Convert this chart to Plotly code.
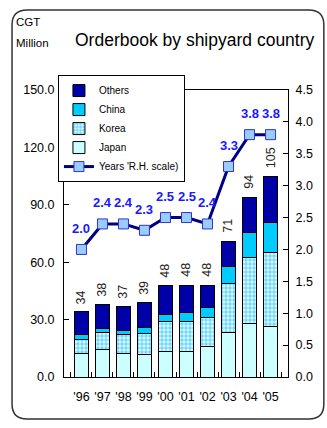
import plotly.graph_objects as go

years = ["'96", "'97", "'98", "'99", "'00", "'01", "'02", "'03", "'04", "'05"]
japan = [12.5, 14.3, 12.5, 12.0, 13.1, 13.4, 15.7, 23.2, 27.9, 26.5]
korea = [7.2, 8.7, 9.6, 10.7, 15.7, 15.4, 15.3, 25.6, 34.3, 38.7]
china = [2.4, 2.6, 2.3, 3.4, 3.8, 4.7, 5.4, 8.7, 13.1, 15.8]
others = [11.9, 12.4, 12.6, 12.9, 15.4, 14.5, 11.6, 13.5, 18.7, 24.0]
totals = [34, 38, 37, 39, 48, 48, 48, 71, 94, 105]
years_rh = [2.0, 2.4, 2.4, 2.3, 2.5, 2.5, 2.4, 3.3, 3.8, 3.8]

FONT = "Liberation Sans, Arial, sans-serif"
outline = dict(color="black", width=1)

fig = go.Figure()
fig.add_trace(go.Bar(x=years, y=japan, name="Japan", legendrank=4,
                     marker=dict(color="#ccffff", line=outline)))
fig.add_trace(go.Bar(x=years, y=korea, name="Korea", legendrank=3,
                     marker=dict(color="#ffffff", line=outline,
                                 pattern=dict(shape=".", fgcolor="#00b8f0", bgcolor="#e0f8ff",
                                              size=4, solidity=0.6))))
fig.add_trace(go.Bar(x=years, y=china, name="China", legendrank=2,
                     marker=dict(color="#00ccff", line=outline)))
fig.add_trace(go.Bar(x=years, y=others, name="Others", legendrank=1,
                     marker=dict(color="#0000a8", line=outline)))
fig.add_trace(go.Scatter(x=years, y=years_rh, name="Years 'R.H. scale)", legendrank=5,
                         yaxis="y2", mode="lines+markers",
                         line=dict(color="#000080", width=3),
                         marker=dict(symbol="square", size=10, color="#99ccff",
                                     line=dict(color="#3333cc", width=1))))

annotations = []
for x, t in zip(years, totals):
    annotations.append(dict(x=x, y=t, xref="x", yref="y", text=str(t), showarrow=False,
                            textangle=-90, yanchor="bottom", yshift=6,
                            font=dict(family=FONT, size=12.5, color="#222222")))
for x, v in zip(years, years_rh):
    annotations.append(dict(x=x, y=v, xref="x", yref="y2", text=f"<b>{v:.1f}</b>",
                            showarrow=False, yanchor="middle", yshift=21,
                            font=dict(family=FONT, size=13, color="#1a1aff")))
annotations.append(dict(x=-0.223, y=1.237, xref="paper", yref="paper", text="CGT",
                        showarrow=False, xanchor="left", yanchor="middle",
                        font=dict(family=FONT, size=11.5, color="black")))
annotations.append(dict(x=-0.223, y=1.164, xref="paper", yref="paper", text="Million",
                        showarrow=False, xanchor="left", yanchor="middle",
                        font=dict(family=FONT, size=11.5, color="black")))
annotations.append(dict(x=0.585, y=1.174, xref="paper", yref="paper",
                        text="Orderbook by shipyard country", showarrow=False,
                        xanchor="center", yanchor="middle",
                        font=dict(family=FONT, size=17.5, color="black")))

# rounded outer frame (paper coords)
x0, x1, y0, y1 = -0.232, 1.16, -0.146, 1.279
rx, ry = 0.067, 0.052
path = (f"M {x0+rx},{y1} L {x1-rx},{y1} Q {x1},{y1} {x1},{y1-ry} "
        f"L {x1},{y0+ry} Q {x1},{y0} {x1-rx},{y0} L {x0+rx},{y0} "
        f"Q {x0},{y0} {x0},{y0+ry} L {x0},{y1-ry} Q {x0},{y1} {x0+rx},{y1} Z")

fig.update_layout(
    width=327, height=428,
    margin=dict(l=64, r=39, t=90, b=51),
    paper_bgcolor="white", plot_bgcolor="white",
    barmode="stack", bargap=0.33,
    showlegend=True,
    legend=dict(x=-0.027, y=1.052, xanchor="left", yanchor="top",
                bgcolor="white", bordercolor="black", borderwidth=1,
                traceorder="normal", itemwidth=30, tracegroupgap=0,
                font=dict(family=FONT, size=10, color="black")),
    font=dict(family=FONT, size=12, color="black"),
    annotations=annotations,
    shapes=[dict(type="path", path=path, xref="paper", yref="paper",
                 line=dict(color="#333333", width=1.5))],
    xaxis=dict(showline=True, linecolor="black", linewidth=1, mirror=True,
               ticks="inside", ticklen=5, tickson="boundaries", tickcolor="black",
               showgrid=False, tickangle=0, ticklabelstandoff=8,
               tickfont=dict(family=FONT, size=12.5)),
    yaxis=dict(range=[0, 150], dtick=30, tickformat=".1f", showgrid=False,
               showline=True, linecolor="black", ticks="inside", ticklen=5,
               tickcolor="black", zeroline=False, ticklabelstandoff=6,
               tickfont=dict(family=FONT, size=12.5)),
    yaxis2=dict(range=[0, 4.5], dtick=0.5, tickformat=".1f", overlaying="y", side="right",
                showgrid=False, showline=True, linecolor="black", ticks="inside",
                ticklen=5, tickcolor="black", zeroline=False, ticklabelstandoff=4,
                tickfont=dict(family=FONT, size=12.5)),
)

fig.write_html("out.html")
